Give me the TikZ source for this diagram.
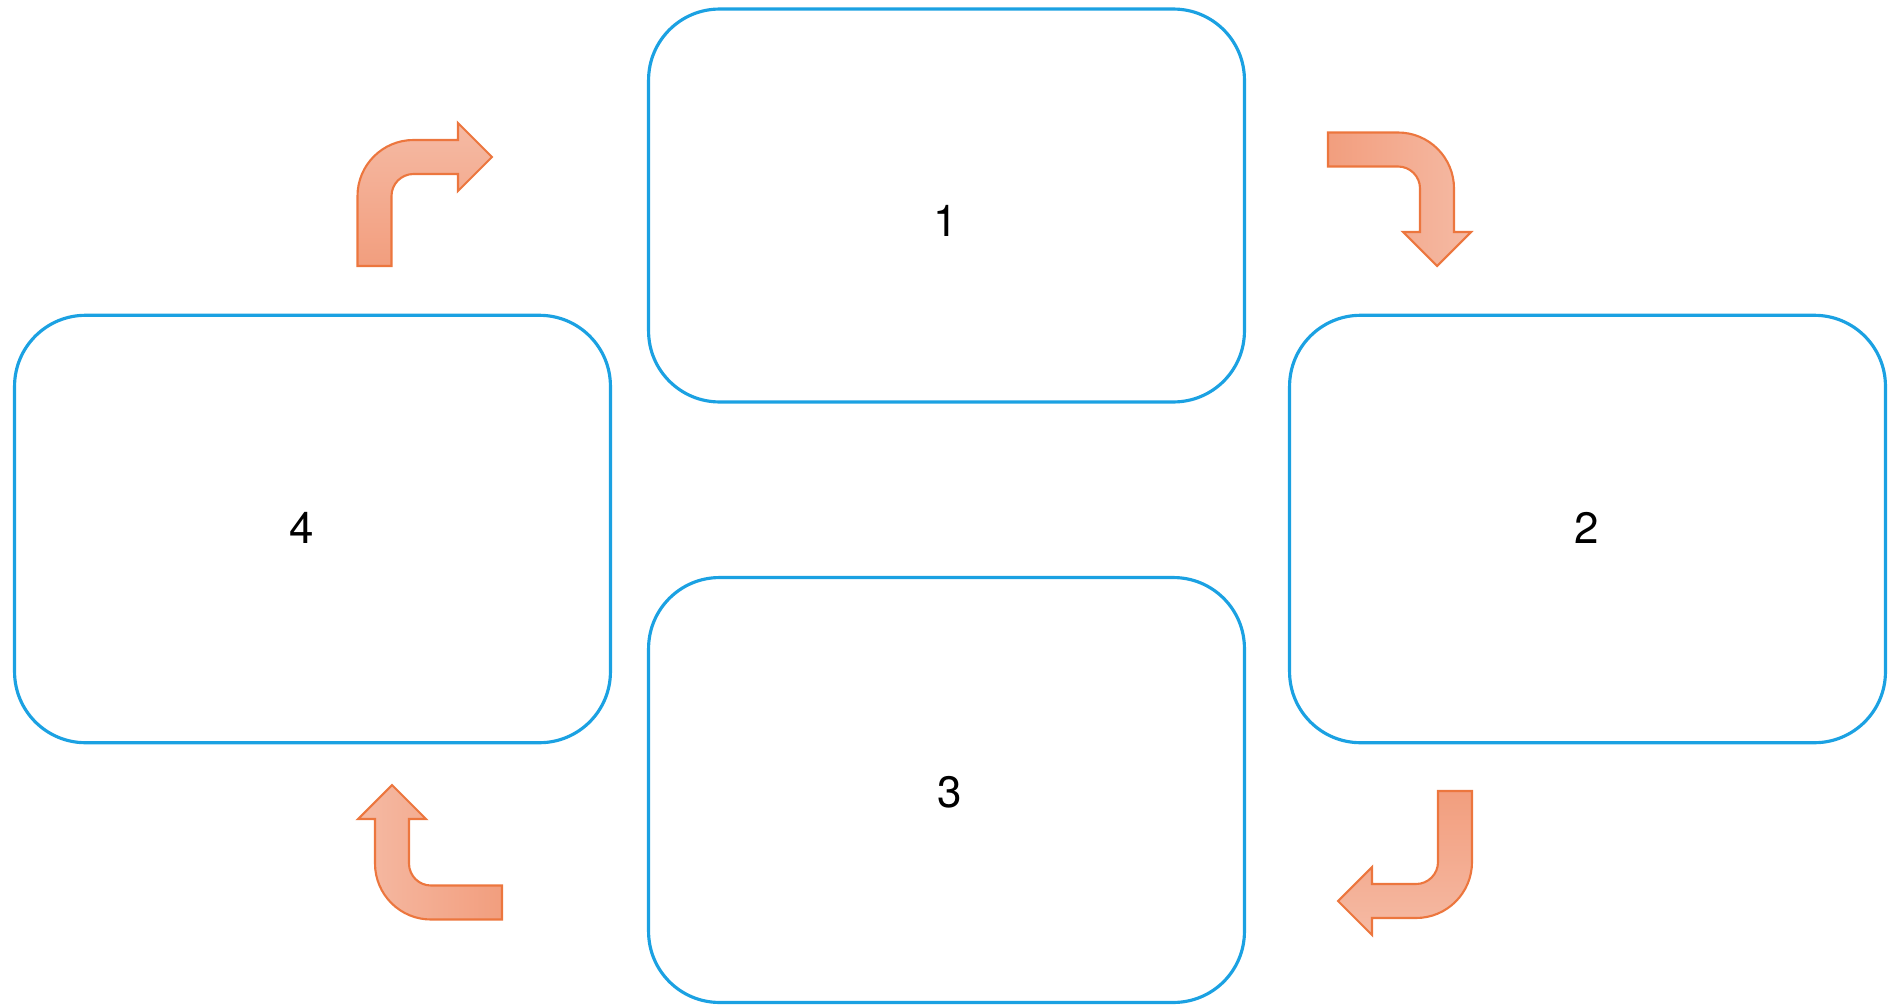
\documentclass[tikz,border=0pt]{standalone}
\usepackage{fontspec}
\setmainfont{TeX Gyre Heros}
\definecolor{boxblue}{RGB}{27,161,226}
\definecolor{arrline}{RGB}{236,118,62}
\definecolor{arrdark}{RGB}{242,158,126}
\definecolor{arrlight}{RGB}{245,186,164}

\begin{document}
\begin{tikzpicture}[x=0.02cm, y=-0.02cm,
	stage/.style={draw=boxblue, line width=1.8pt, rounded corners=1.42cm, minimum width=11.92cm, inner sep=0pt, outer sep=0pt},
	turn/.style={draw=arrline, line width=1.2pt, line join=miter},
	num/.style={font=\fontsize{25}{30}\selectfont}]
	\useasboundingbox (0,0) rectangle (1895,1007);
	\node [stage, minimum height=7.86cm] (s1) at (946.5,205.5) {};
	\node [stage, minimum height=8.55cm] (s2) at (1587.5,529) {};
	\node [stage, minimum height=8.5cm] (s3) at (946.5,790) {};
	\node [stage, minimum height=8.55cm] (s4) at (312.5,529) {};
	\node [num] (n1) at (946,221) {1};
	\node [num] (n2) at (1587,528) {2};
	\node [num] (n3) at (950,792) {3};
	\node [num] (n4) at (302,528) {4};
	\path [turn, top color=arrlight, bottom color=arrdark] (357.5,266) -- (357.5,196) arc (180:270:56) -- (458,140) -- (458,123) -- (492,157) -- (458,191) -- (458,174) -- (413.5,174) arc (270:180:22) -- (391.5,266) -- cycle;
	\path [turn, left color=arrdark, right color=arrlight] (1328,132.5) -- (1398,132.5) arc (270:360:56) -- (1454,232) -- (1471,232) -- (1437,266) -- (1403,232) -- (1420,232) -- (1420,188.5) arc (0:-90:22) -- (1328,166.5) -- cycle;
	\path [turn, top color=arrdark, bottom color=arrlight] (1472,791) -- (1472,862) arc (0:90:56) -- (1372,918) -- (1372,935) -- (1338,901) -- (1372,867) -- (1372,884) -- (1416,884) arc (90:0:22) -- (1438,791) -- cycle;
	\path [turn, left color=arrlight, right color=arrdark] (502,919.5) -- (431,919.5) arc (90:180:56) -- (375,819) -- (358,819) -- (392,785) -- (426,819) -- (409,819) -- (409,863.5) arc (180:90:22) -- (431,885.5) -- (502,885.5) -- cycle;
\end{tikzpicture}
\end{document}
